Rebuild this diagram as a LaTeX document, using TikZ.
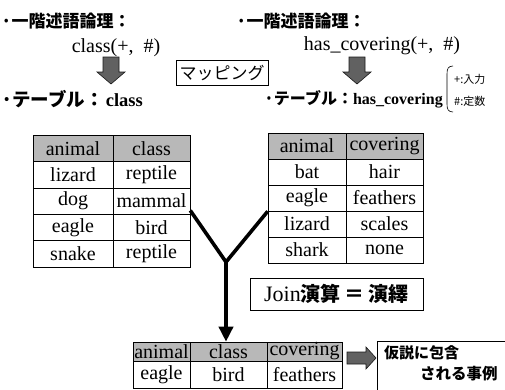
\documentclass[tikz,border=0pt]{standalone}
\usepackage{fontspec}
\setmainfont{Liberation Serif}
\newfontfamily\jp{Noto Sans CJK JP}
\usetikzlibrary{arrows.meta}
\begin{document}
\begin{tikzpicture}[x=1pt,y=-1pt,
  cell/.style={draw=black, line width=0.6pt, inner sep=0pt, font=\fontsize{20}{23}\selectfont},
  hd/.style={cell, fill=black!28},
  jtitle/.style={anchor=west, inner sep=0pt, font=\jp\bfseries\fontsize{17}{19}\selectfont},
  ttitle/.style={anchor=west, inner sep=0pt, font=\jp\bfseries\fontsize{18.5}{20}\selectfont},
  pred/.style={inner sep=0pt, font=\fontsize{20}{23}\selectfont},
  blockarrow/.style={fill=black!62, draw=black!90, line width=0.6pt},
  yline/.style={line width=3.6pt, line join=miter},
  lw1/.style={minimum width=80pt}, lw2/.style={minimum width=77pt},
  rw1/.style={minimum width=78pt}, rw2/.style={minimum width=77pt},
  bw1/.style={minimum width=57pt}, bw2/.style={minimum width=77pt}, bw3/.style={minimum width=75pt},
  lh/.style={minimum height=26.4pt}, rh/.style={minimum height=26pt}]
\useasboundingbox (0,0) rectangle (505,389);
\clip (0,0) rectangle (505,389);

% titles
\node[jtitle] (t1) at (1,21) {·一階述語論理：};
\node[jtitle] (t2) at (236,21) {·一階述語論理：};
\node[pred] (p1) at (116,48) {class(+,\ \ \#)};
\node[pred] (p2) at (382,46) {has\_covering(+,\ \ \#)};

% block arrows
\path[blockarrow] (103,57) -- (119,57) -- (119,72) -- (125,72) -- (111,84) -- (97,72) -- (103,72) -- cycle;
\path[blockarrow] (349,57) -- (365,57) -- (365,72) -- (371,72) -- (357,84) -- (343,72) -- (349,72) -- cycle;

\node[draw, line width=0.6pt, inner sep=0pt, minimum width=92pt, minimum height=25pt,
      font=\jp\fontsize{17}{19}\selectfont] (map) at (222,72.5) {マッピング};

\node[ttitle] (tb1) at (1,99) {·テーブル：\hspace{2pt}{\rmfamily\fontsize{18.5}{20}\selectfont class}};
\node[ttitle, font=\jp\bfseries\fontsize{16}{19}\selectfont] (tb2) at (264,99) {·テーブル：{\rmfamily\fontsize{16}{19}\selectfont has\_covering}};

% brace
\draw[line width=0.6pt] (453,66) .. controls (448,66) and (447,69) .. (447,74) -- (447,104)
   .. controls (447,109) and (448,112) .. (453,112);
\node[anchor=west, inner sep=0pt, font=\jp\fontsize{11}{12}\selectfont] (inp) at (454,79) {+:入力};
\node[anchor=west, inner sep=0pt, font=\jp\fontsize{11}{12}\selectfont] (cst) at (454,101) {\#:定数};

% left table
\node[hd,lw1,lh] (lt11) at (73,148.2) {animal};
\node[hd,lw2,lh] (lt12) at (151.5,148.2) {class};
\node[cell,lw1,lh] (lt21) at (73,174.6) {lizard};
\node[cell,lw2,lh] (lt22) at (151.5,174.6) {reptile};
\node[cell,lw1,lh] (lt31) at (73,201) {dog};
\node[cell,lw2,lh] (lt32) at (151.5,201) {mammal};
\node[cell,lw1,lh] (lt41) at (73,227.4) {eagle};
\node[cell,lw2,lh] (lt42) at (151.5,227.4) {bird};
\node[cell,lw1,lh] (lt51) at (73,253.8) {snake};
\node[cell,lw2,lh] (lt52) at (151.5,253.8) {reptile};

% right table
\node[hd,rw1,rh] (rt11) at (307,146) {animal};
\node[hd,rw2,rh] (rt12) at (384.5,146) {covering};
\node[cell,rw1,rh] (rt21) at (307,172) {bat};
\node[cell,rw2,rh] (rt22) at (384.5,172) {hair};
\node[cell,rw1,rh] (rt31) at (307,198) {eagle};
\node[cell,rw2,rh] (rt32) at (384.5,198) {feathers};
\node[cell,rw1,rh] (rt41) at (307,224) {lizard};
\node[cell,rw2,rh] (rt42) at (384.5,224) {scales};
\node[cell,rw1,rh] (rt51) at (307,250) {shark};
\node[cell,rw2,rh] (rt52) at (384.5,250) {none};

% join box
\node[draw, line width=0.6pt, inner sep=0pt, minimum width=173pt, minimum height=32pt] (join) at (336.5,294)
  {{\fontsize{22}{25}\selectfont Join}{\jp\bfseries\fontsize{20}{23}\selectfont 演算\hspace{4pt}＝\hspace{4pt}演繹}};

% bottom table
\node[hd,bw1,minimum height=19pt] (bt11) at (161.5,351.5) {animal};
\node[hd,bw2,minimum height=19pt] (bt12) at (228.5,351.5) {class};
\node[hd,bw3,minimum height=19pt] (bt13) at (304.5,351.5) {covering};
\node[cell,bw1,minimum height=27pt] (bt21) at (161.5,374.5) {eagle};
\node[cell,bw2,minimum height=27pt] (bt22) at (228.5,374.5) {bird};
\node[cell,bw3,minimum height=27pt] (bt23) at (304.5,374.5) {feathers};

% Y connector
\coordinate (yj) at (226,262);
\draw[yline] ([yshift=4pt]lt32.south east) -- (yj) -- (rt31.south west);
\draw[yline, -{Triangle[length=15pt,width=14pt]}] (yj) -- (yj |- bt12.north);

% result
\path[blockarrow] (347,352) -- (366,352) -- (366,347) -- (376,358) -- (366,369) -- (366,364) -- (347,364) -- cycle;
\draw[line width=0.6pt] (520,341) -- (377,341) -- (377,400);
\node[anchor=west, inner sep=0pt, font=\jp\bfseries\fontsize{15}{18}\selectfont] (r1) at (384,353) {仮説に包含};
\node[anchor=west, inner sep=0pt, font=\jp\bfseries\fontsize{15.5}{18}\selectfont] (r2) at (420,374) {される事例};
\end{tikzpicture}
\end{document}
